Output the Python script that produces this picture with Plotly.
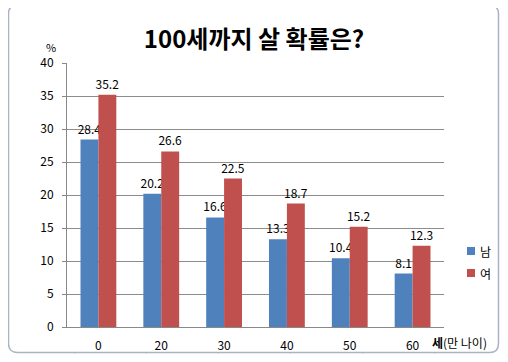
import plotly.graph_objects as go

categories = ["0", "20", "30", "40", "50", "60"]
male = [28.4, 20.2, 16.6, 13.3, 10.4, 8.1]
female = [35.2, 26.6, 22.5, 18.7, 15.2, 12.3]
series_names = ["남", "여"]
series_colors = ["#4F81BD", "#C0504D"]
title_text = "100세까지 살 확률은?"
y_ticks = [0, 5, 10, 15, 20, 25, 30, 35, 40]

FONT = "Noto Sans CJK KR"
OFF = 8                      # page body margin offset
W, H = 508 - OFF, 362 - 2 * OFF  # figure size (avoid vertical overflow)
# plot area in window pixels: x 67..444, y 63..327
PL, PR, PT, PB = 67, 444, 63, 327
L, R, T, B = PL - OFF, W - (PR - OFF), PT - OFF, H - (PB - OFF)


def fx(x):
    return (x - PL) / (PR - PL)


def fy(y):
    return (PB - y) / (PB - PT)


fig = go.Figure()
for name, vals, color in zip(series_names, [male, female], series_colors):
    fig.add_trace(go.Bar(x=categories, y=vals, name=name,
                         marker=dict(color=color, line=dict(width=0)),
                         text=[f"{v:.1f}" for v in vals], textposition="outside",
                         textangle=0, constraintext="none",
                         textfont=dict(size=12, color="black", family=FONT),
                         cliponaxis=False, showlegend=False))

shapes = []
for x in [75, 146, 218, 290, 363, 435]:
    shapes.append(dict(type="line", xref="paper", yref="paper",
                       x0=fx(x), x1=fx(x), y0=fy(352), y1=fy(354),
                       line=dict(color="#d0d7e5", width=1), layer="below"))

x0, y0, x1, y1, r = 8.5, 5, 498.5, 352.5, 9
path_p = (f"M {fx(x0+r)},{fy(y0)} L {fx(x1-r)},{fy(y0)} Q {fx(x1)},{fy(y0)} {fx(x1)},{fy(y0+r)} "
          f"L {fx(x1)},{fy(y1-r)} Q {fx(x1)},{fy(y1)} {fx(x1-r)},{fy(y1)} L {fx(x0+r)},{fy(y1)} "
          f"Q {fx(x0)},{fy(y1)} {fx(x0)},{fy(y1-r)} L {fx(x0)},{fy(y0+r)} "
          f"Q {fx(x0)},{fy(y0)} {fx(x0+r)},{fy(y0)} Z")
shapes.append(dict(type="path", xref="paper", yref="paper", path=path_p,
                   line=dict(color="#a8b4c4", width=1.5), layer="below"))

annotations = [
    dict(text="%", xref="paper", yref="paper", x=fx(51), y=fy(47),
         showarrow=False, font=dict(size=11, family=FONT),
         xanchor="center", yanchor="middle"),
    dict(text="<b>세</b>(만 나이)", xref="paper", yref="paper",
         x=fx(430), y=fy(342), showarrow=False, font=dict(size=12, family=FONT),
         xanchor="left", yanchor="middle"),
]
# custom legend (square marker + label)
for i, (name, color) in enumerate(zip(series_names, series_colors)):
    cy = 251 + 22 * i
    shapes.append(dict(type="rect", xref="paper", yref="paper",
                       x0=fx(467), x1=fx(475), y0=fy(cy - 4), y1=fy(cy + 4),
                       fillcolor=color, line=dict(width=0)))
    annotations.append(dict(text=name, xref="paper", yref="paper",
                            x=fx(478), y=fy(cy), showarrow=False,
                            font=dict(size=12, family=FONT),
                            xanchor="left", yanchor="middle"))

fig.update_layout(
    width=W, height=H,
    margin=dict(l=L, r=R, t=T, b=B, pad=0, autoexpand=False),
    paper_bgcolor="white", plot_bgcolor="white",
    bargap=0.43, bargroupgap=0,
    font=dict(family=FONT, size=12, color="black"),
    title=dict(text=f"<b>{title_text}</b>", xref="container", x=(254 - OFF) / W,
               xanchor="center", yref="container", y=1 - (40 - OFF) / H,
               yanchor="middle", font=dict(size=24, color="black", family=FONT)),
    xaxis=dict(showgrid=False, showline=True, linecolor="#888888", linewidth=1,
               ticks="", tickfont=dict(size=12, family=FONT), ticklabelstandoff=8,
               automargin=False),
    yaxis=dict(range=[0, 40], tickvals=y_ticks, showgrid=True, gridcolor="#8c8c8c",
               gridwidth=1, showline=True, linecolor="#888888", linewidth=1,
               ticks="outside", ticklen=4, tickcolor="#888888", ticklabelstandoff=6,
               tickfont=dict(size=12, family=FONT), zeroline=False, automargin=False),
    showlegend=False,
    annotations=annotations,
    shapes=shapes,
)

fig.write_html("out.html")
